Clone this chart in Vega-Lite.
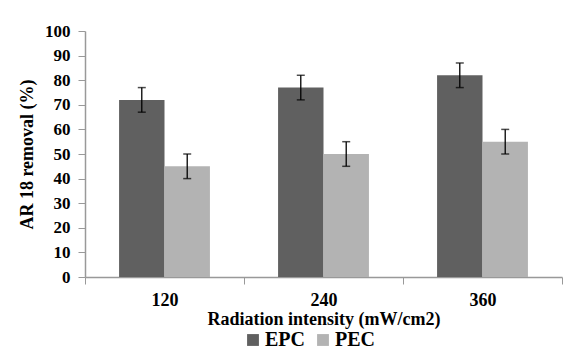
{
  "$schema": "https://vega.github.io/schema/vega-lite/v6.json",
  "autosize": "none",
  "width": 477,
  "height": 246,
  "padding": {"left": 85, "top": 31, "right": 14, "bottom": 75},
  "background": "white",
  "config": {
    "view": {"stroke": null},
    "font": "Liberation Serif",
    "axisY": {
      "tickCount": 10,
      "titleFont": "Liberation Serif",
      "titleFontSize": 18,
      "titleFontWeight": "bold",
      "titleColor": "black",
      "titlePadding": 8,
      "labelFont": "Liberation Serif",
      "labelFontSize": 17,
      "labelFontWeight": "bold",
      "labelColor": "black",
      "labelPadding": 8,
      "labelOverlap": false,
      "tickSize": 7,
      "tickColor": "#999999",
      "domainColor": "#999999",
      "domainWidth": 1.5,
      "grid": false
    }
  },
  "data": {
    "values": [
      {"intensity": "120", "series": "EPC", "value": 72, "lo": 67, "hi": 77},
      {"intensity": "120", "series": "PEC", "value": 45, "lo": 40, "hi": 50},
      {"intensity": "240", "series": "EPC", "value": 77, "lo": 72, "hi": 82},
      {"intensity": "240", "series": "PEC", "value": 50, "lo": 45, "hi": 55},
      {"intensity": "360", "series": "EPC", "value": 82, "lo": 77, "hi": 87},
      {"intensity": "360", "series": "PEC", "value": 55, "lo": 50, "hi": 60}
    ]
  },
  "encoding": {
    "x": {
      "field": "intensity",
      "type": "nominal",
      "scale": {"paddingInner": 0, "paddingOuter": 0},
      "axis": {
        "title": "Radiation intensity (mW/cm2)",
        "titleFont": "Liberation Serif",
        "titleFontSize": 18,
        "titleFontWeight": "bold",
        "titleColor": "black",
        "titlePadding": 1,
        "labelFont": "Liberation Serif",
        "labelFontSize": 18,
        "labelFontWeight": "bold",
        "labelColor": "black",
        "labelAngle": 0,
        "labelPadding": 7,
        "tickBand": "extent",
        "tickSize": 7,
        "tickColor": "#999999",
        "domainColor": "#999999",
        "domainWidth": 1.5
      }
    },
    "xOffset": {
      "field": "series",
      "type": "nominal",
      "scale": {"paddingInner": 0, "paddingOuter": 0.75}
    }
  },
  "layer": [
    {
      "mark": {"type": "bar", "stroke": null},
      "encoding": {
        "y": {
          "field": "value",
          "type": "quantitative",
          "scale": {"domain": [0, 100]},
          "title": "AR 18 removal (%)"
        },
        "color": {
          "field": "series",
          "type": "nominal",
          "scale": {"domain": ["EPC", "PEC"], "range": ["#606060", "#b3b3b3"]},
          "legend": {
            "title": null,
            "orient": "none",
            "direction": "horizontal",
            "legendX": 158,
            "legendY": 299,
            "symbolType": "square",
            "symbolSize": 140,
            "symbolStrokeWidth": 0,
            "labelFont": "Liberation Serif",
            "labelFontSize": 20,
            "labelFontWeight": "bold",
            "labelColor": "black",
            "labelOffset": 2,
            "columnPadding": 8
          }
        }
      }
    },
    {
      "mark": {"type": "rule", "color": "black", "strokeWidth": 1.3},
      "encoding": {
        "y": {"field": "lo", "type": "quantitative", "title": "AR 18 removal (%)"},
        "y2": {"field": "hi"}
      }
    },
    {
      "mark": {"type": "tick", "color": "black", "thickness": 1.5, "size": 8},
      "encoding": {
        "y": {"field": "lo", "type": "quantitative", "title": "AR 18 removal (%)"}
      }
    },
    {
      "mark": {"type": "tick", "color": "black", "thickness": 1.5, "size": 8},
      "encoding": {
        "y": {"field": "hi", "type": "quantitative", "title": "AR 18 removal (%)"}
      }
    }
  ]
}
